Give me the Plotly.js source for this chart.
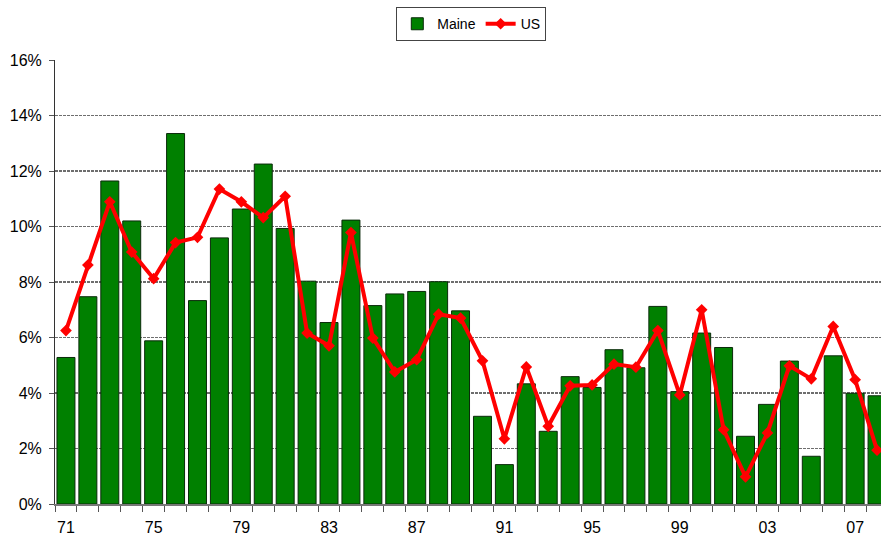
<!DOCTYPE html>
<html>
<head>
<meta charset="utf-8">
<script src="https://cdn.plot.ly/plotly-3.0.1.min.js"></script>
<style>html,body{margin:0;padding:0;background:#fff;}#chart{width:881px;height:540px;}</style>
</head>
<body>
<div id="chart"></div>
<script>
const years = [1971,1972,1973,1974,1975,1976,1977,1978,1979,1980,1981,1982,1983,1984,1985,1986,1987,1988,1989,1990,1991,1992,1993,1994,1995,1996,1997,1998,1999,2000,2001,2002,2003,2004,2005,2006,2007,2008];
const maine = [5.28,7.47,11.64,10.2,5.88,13.35,7.33,9.59,10.63,12.25,9.93,8.03,6.54,10.23,7.15,7.57,7.66,8.01,6.96,3.16,1.42,4.33,2.62,4.59,4.2,5.56,4.91,7.12,4.05,6.16,5.64,2.44,3.59,5.15,1.72,5.34,3.99,3.9];
const us = [6.25,8.61,10.89,9.08,8.12,9.42,9.61,11.35,10.89,10.32,11.09,6.16,5.7,9.78,5.98,4.76,5.2,6.84,6.7,5.16,2.35,4.94,2.8,4.26,4.29,5.04,4.93,6.25,3.93,7.0,2.68,0.98,2.56,4.98,4.51,6.4,4.48,1.94];
const tickYears = [1971,1975,1979,1983,1987,1991,1995,1999,2003,2007];
const tickLabels = ['71','75','79','83','87','91','95','99','03','07'];
const yTicks = [0,2,4,6,8,10,12,14,16];
const yLabels = ['0%','2%','4%','6%','8%','10%','12%','14%','16%'];

const traces = [
  {
    type: 'bar', name: 'Maine', x: years, y: maine, width: 0.82,
    marker: {color: '#008000', line: {color: '#0a2a0a', width: 1}}
  },
  {
    type: 'scatter', mode: 'lines+markers', name: 'US', x: years, y: us,
    line: {color: '#ff0000', width: 4},
    marker: {symbol: 'diamond', size: 9, color: '#ff0000'},
    cliponaxis: true
  }
];

const layout = {
  width: 881, height: 540,
  margin: {l: 55, r: 0, t: 60, b: 35.5},
  paper_bgcolor: '#fff', plot_bgcolor: '#fff',
  font: {family: 'Liberation Sans, Arial, sans-serif', size: 16, color: '#000'},
  showlegend: true,
  legend: {
    orientation: 'h', x: 0.504, xanchor: 'center', y: 1.119, yanchor: 'top',
    bordercolor: '#444', borderwidth: 1, bgcolor: '#fff',
    font: {size: 14, color: '#000'}, traceorder: 'normal'
  },
  xaxis: {
    range: [1970.5, 2008.18],
    tickmode: 'array', tickvals: tickYears, ticktext: tickLabels,
    ticks: '', showgrid: false, zeroline: false,
    showline: true, linecolor: '#777', linewidth: 2,
    tickfont: {size: 16}, ticklabelstandoff: 8,
    minor: {tick0: 0.5, dtick: 1, ticks: 'outside', ticklen: 6, tickcolor: '#555', tickwidth: 1, showgrid: false}
  },
  yaxis: {
    range: [0, 16], tickmode: 'array', tickvals: yTicks, ticktext: yLabels,
    ticks: 'outside', ticklen: 5, tickcolor: '#555',
    showgrid: true, gridcolor: '#6e6e6e', gridwidth: 1.3, griddash: '3px,1px',
    zeroline: false, showline: true, linecolor: '#333', linewidth: 1,
    tickfont: {size: 16}, ticklabelstandoff: 4
  },
  bargap: 0.17
};

Plotly.newPlot('chart', traces, layout, {displayModeBar: false, staticPlot: true});
</script>
</body>
</html>
